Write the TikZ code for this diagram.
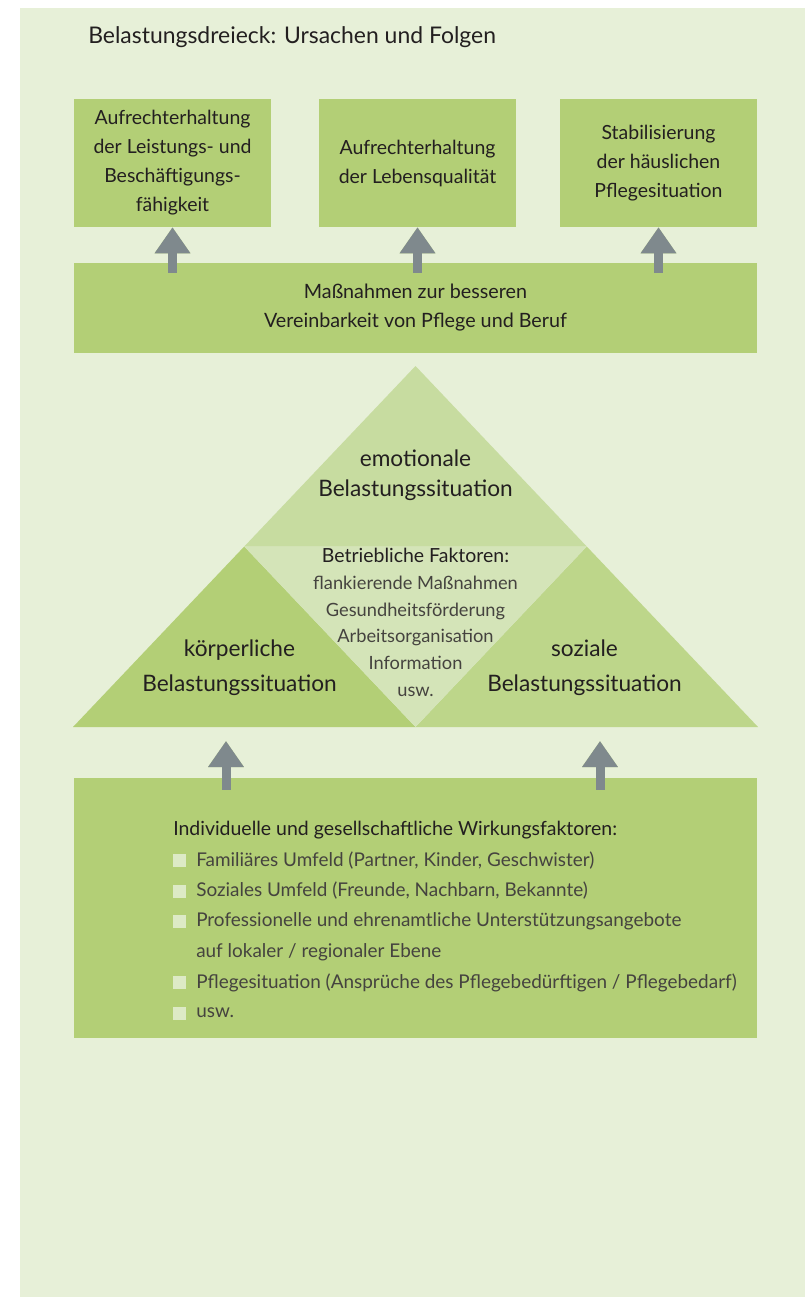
\documentclass[tikz,border=0pt]{standalone}
\usepackage{fontspec}
\setmainfont{Lato}
\usetikzlibrary{calc, arrows.meta, positioning}

\definecolor{panelgruen}{HTML}{E7F0D8}
\definecolor{boxgruen}{HTML}{B3CF76}
\definecolor{dreieckoben}{HTML}{C7DCA0}
\definecolor{dreieckrechts}{HTML}{BDD68A}
\definecolor{dreieckmitte}{HTML}{D4E4B8}
\definecolor{pfeilgrau}{HTML}{7F898D}
\definecolor{schattengruen}{HTML}{9CC050}
\definecolor{punktgruen}{HTML}{DDEAC6}
\definecolor{textdunkel}{HTML}{231F20}
\definecolor{textgrau}{HTML}{45433F}

\tikzset{
  zielbox/.style={fill=boxgruen, text=textdunkel, align=center, inner sep=0pt,
    minimum width=147.75pt, minimum height=96pt, font=\fontsize{14.6}{21.75}\selectfont},
  breitbox/.style={fill=boxgruen, text=textdunkel, align=center, inner sep=0pt,
    minimum width=512.25pt},
  pfeil/.style={line width=6.75pt, draw=pfeilgrau, fill=pfeilgrau,
    -{Triangle[width=25.5pt,length=19.5pt]}},
  pfeilschatten/.style={line width=6.75pt, draw=schattengruen, fill=schattengruen,
    opacity=0.6, -{Triangle[width=25.5pt,length=19.5pt]}},
  dreiecktext/.style={text=textdunkel, align=center, inner sep=0pt},
  listentext/.style={anchor=west, inner sep=0pt, text=textgrau, font=\fontsize{14.2}{16}\selectfont},
  punkt/.style={fill=punktgruen, inner sep=0pt, minimum size=9.75pt}
}

\begin{document}
\begin{tikzpicture}[x=0.75pt, y=-0.75pt]
  \useasboundingbox (0,0) rectangle (805,1297);
  % hintergrund
  \fill[white] (0,0) rectangle (805,1297);
  \fill[panelgruen] (20,8) rectangle (805,1297);

  % titel
  \node[anchor=west, inner sep=0pt, text=textdunkel, font=\fontsize{17.2}{20}\selectfont]
    (titel) at (88,37) {Belastungsdreieck: Ursachen und Folgen};

  % ziele oben
  \node[zielbox] (ziel1) at (172.5,163) {Aufrechterhaltung\\der Leistungs- und\\Beschäftigungs-\\fähigkeit};
  \node[zielbox] (ziel2) at (417.5,163) {Aufrechterhaltung\\der Lebensqualität};
  \node[zielbox] (ziel3) at (658.5,163) {Stabilisierung\\der häuslichen\\Pflegesituation};

  % massnahmen
  \node[breitbox, minimum height=67.5pt, font=\fontsize{14.8}{21.75}\selectfont]
    (mass) at (415.5,308) {Maßnahmen zur besseren\\Vereinbarkeit von Pflege und Beruf};

  % pfeile nach oben
  \foreach \z in {ziel1, ziel2, ziel3} {
    \draw[pfeilschatten, shift={(4,4)}] ($(\z.south |- mass.north)+(0,10)$) -- (\z.south);
    \draw[pfeil] ($(\z.south |- mass.north)+(0,10)$) -- (\z.south);
  }

  % belastungsdreieck
  \coordinate (spitze) at (415.5,366);
  \coordinate (links) at (73,727);
  \coordinate (rechts) at (758,727);
  \coordinate (ml) at ($(spitze)!0.5!(links)$);
  \coordinate (mr) at ($(spitze)!0.5!(rechts)$);
  \coordinate (mu) at ($(links)!0.5!(rechts)$);
  \fill[dreieckoben] (spitze) -- (ml) -- (mr) -- cycle;
  \fill[boxgruen] (links) -- (ml) -- (mu) -- cycle;
  \fill[dreieckrechts] (mu) -- (mr) -- (rechts) -- cycle;
  \fill[dreieckmitte] (ml) -- (mr) -- (mu) -- cycle;

  \node[dreiecktext, font=\fontsize{17}{22.5}\selectfont] (emo) at (415.5,475.5)
    {emotionale\\Belastungssituation};
  \node[dreiecktext, font=\fontsize{17}{26.5}\selectfont] (koerp) at (239.5,668)
    {körperliche\\Belastungssituation};
  \node[dreiecktext, font=\fontsize{17}{26.5}\selectfont] (sozial) at (584.5,668)
    {soziale\\Belastungssituation};
  \node[dreiecktext, font=\fontsize{13.7}{20}\selectfont] (betrieb) at (415.5,622.5)
    {{\fontsize{14.6}{20}\selectfont Betriebliche Faktoren:}\\\color{textgrau}flankierende Maßnahmen\\\color{textgrau}Gesundheitsförderung\\
     \color{textgrau}Arbeitsorganisation\\\color{textgrau}Information\\\color{textgrau}usw.};

  % wirkungsfaktoren
  \node[breitbox, minimum height=195pt] (wirk) at (415.5,908) {};
  \node[listentext, text=textdunkel, font=\fontsize{14.6}{16}\selectfont] (wk0) at (173,830) {Individuelle und gesellschaftliche Wirkungsfaktoren:};
  \node[punkt] (p1) at (179.5,860.5) {};
  \node[listentext] (wk1) at (196,860.5) {Familiäres Umfeld (Partner, Kinder, Geschwister)};
  \node[punkt] (p2) at (179.5,891) {};
  \node[listentext] (wk2) at (196,891) {Soziales Umfeld (Freunde, Nachbarn, Bekannte)};
  \node[punkt] (p3) at (179.5,921.5) {};
  \node[listentext] (wk3) at (196,921.5) {Professionelle und ehrenamtliche Unterstützungsangebote};
  \node[listentext] (wk3b) at (196,952) {auf lokaler / regionaler Ebene};
  \node[punkt] (p4) at (179.5,982.5) {};
  \node[listentext] (wk4) at (196,982.5) {Pflegesituation (Ansprüche des Pflegebedürftigen / Pflegebedarf)};
  \node[punkt] (p5) at (179.5,1013) {};
  \node[listentext] (wk5) at (196,1013) {usw.};

  % pfeile zum dreieck
  \coordinate (ziellinks) at (226,741);
  \coordinate (zielrechts) at (600,741);
  \foreach \z in {ziellinks, zielrechts} {
    \draw[pfeilschatten, shift={(4,4)}] ($(\z |- wirk.north)+(0,12)$) -- (\z);
    \draw[pfeil] ($(\z |- wirk.north)+(0,12)$) -- (\z);
  }
\end{tikzpicture}
\end{document}
